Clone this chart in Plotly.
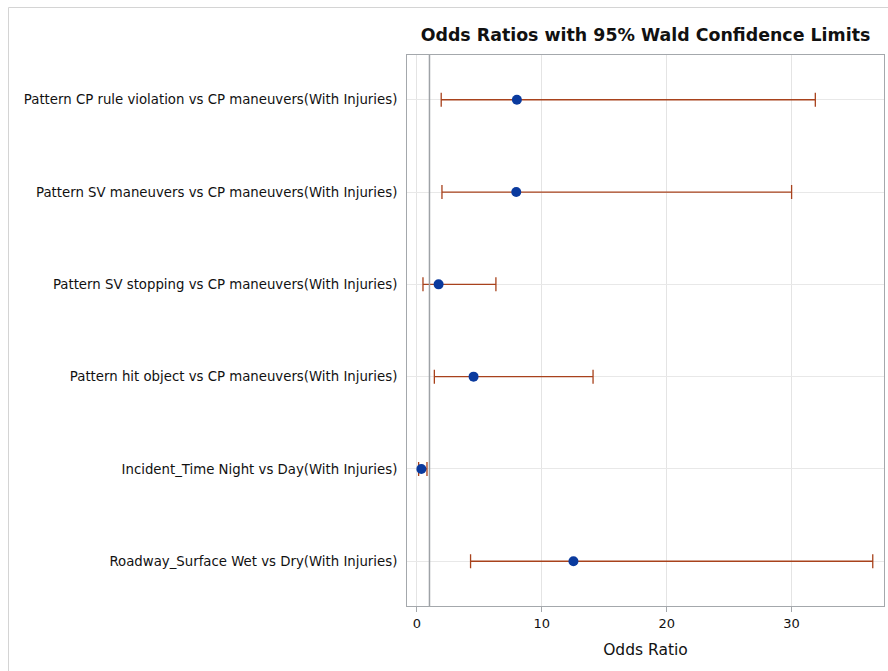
import plotly.graph_objects as go

labels = [
    "Pattern CP rule violation vs CP maneuvers(With Injuries)",
    "Pattern SV maneuvers vs CP maneuvers(With Injuries)",
    "Pattern SV stopping vs CP maneuvers(With Injuries)",
    "Pattern hit object vs CP maneuvers(With Injuries)",
    "Incident_Time Night vs Day(With Injuries)",
    "Roadway_Surface Wet vs Dry(With Injuries)",
]
odds = [8.0, 7.95, 1.73, 4.53, 0.35, 12.53]
lower = [1.94, 2.0, 0.48, 1.39, 0.13, 4.29]
upper = [31.9, 30.0, 6.32, 14.1, 0.80, 36.5]
x_ticks = [0, 10, 20, 30]

W, H = 888, 671
L, R, T, B = 407, 4, 55, 65
pw, ph = W - L - R, H - T - B

def px_x(p):
    return (p - L) / pw

def px_y(p):
    return 1 - (p - T) / ph

fig = go.Figure()
fig.add_trace(go.Scatter(
    x=odds, y=labels, mode="markers",
    marker=dict(color="#0a3a9e", size=10),
    error_x=dict(type="data", symmetric=False,
                 array=[u - o for u, o in zip(upper, odds)],
                 arrayminus=[o - l for o, l in zip(odds, lower)],
                 color="#a8421c", thickness=1.3, width=7),
    showlegend=False,
))

fig.add_shape(type="line", xref="x", yref="paper", x0=1, x1=1, y0=0, y1=1,
              line=dict(color="#9ea2a6", width=1.5), layer="above")

# outer frame of the original image
bx, by = px_x(8.5), px_y(7.5)
fig.add_shape(type="line", xref="paper", yref="paper", x0=bx, x1=bx, y0=px_y(680), y1=by,
              line=dict(color="#d4d4d4", width=1))
fig.add_shape(type="line", xref="paper", yref="paper", x0=bx, x1=px_x(900), y0=by, y1=by,
              line=dict(color="#d4d4d4", width=1))

fig.update_layout(
    width=W, height=H,
    margin=dict(l=L, r=R, t=T, b=B),
    paper_bgcolor="white", plot_bgcolor="white",
    font=dict(family="DejaVu Sans, sans-serif", size=13, color="#111"),
    title=dict(text="<b>Odds Ratios with 95% Wald Confidence Limits</b>",
               x=0.5, xref="paper", xanchor="center",
               y=1 - 35 / H, yref="container", yanchor="middle",
               font=dict(size=17.4, color="#111")),
    xaxis=dict(range=[-0.8, 37.4], tickvals=x_ticks, showgrid=True,
               gridcolor="#e4e4e4", gridwidth=1, zeroline=False,
               showline=True, linecolor="#a4a8ac", linewidth=1, mirror=True,
               ticks="outside", ticklen=5, tickcolor="#a4a8ac",
               tickfont=dict(size=13),
               title=dict(text="Odds Ratio", font=dict(size=15.5), standoff=14)),
    yaxis=dict(categoryorder="array", categoryarray=labels,
               range=[5.485, -0.485], showgrid=True, gridcolor="#e8e8e8",
               zeroline=False, showline=True, linecolor="#a4a8ac", linewidth=1,
               mirror=True, ticks="", ticklabelstandoff=6,
               tickfont=dict(size=13.3)),
)

fig.write_html("out.html")
